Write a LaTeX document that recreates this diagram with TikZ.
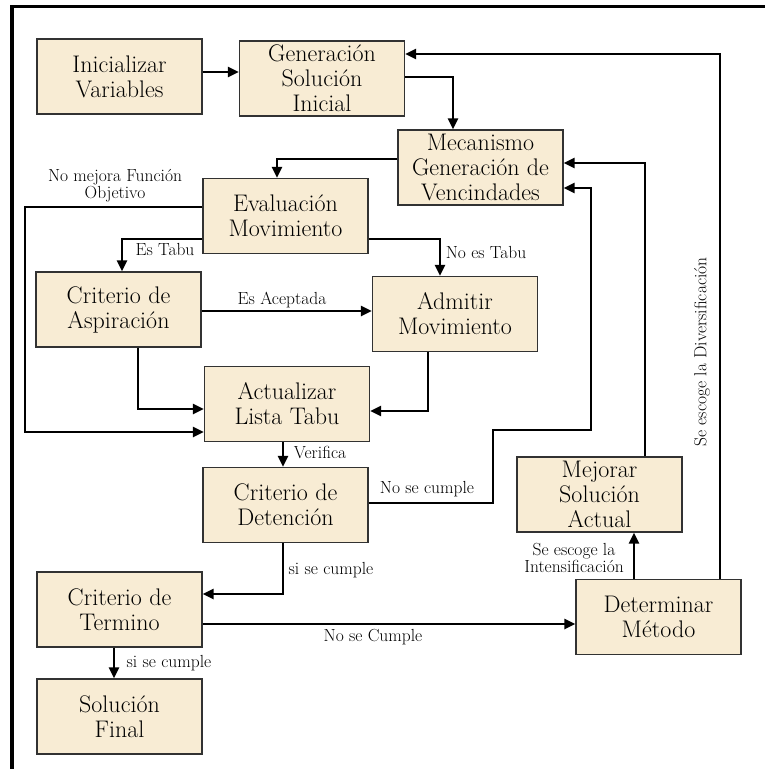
\documentclass[tikz,border=0pt]{standalone}
\usetikzlibrary{arrows.meta}
\definecolor{boxfill}{RGB}{248,236,212}
\definecolor{boxedge}{RGB}{50,50,50}
\begin{document}
\begin{tikzpicture}[x=1pt,y=-1pt,
  stepbox/.style={draw=boxedge, fill=boxfill, line width=1.3pt,
    minimum width=165pt, minimum height=75pt, inner sep=0pt,
    align=center, font=\fontsize{24}{25}\selectfont},
  flow/.style={line width=2.8pt, -{Triangle[length=11pt,width=10pt]}},
  lbl/.style={font=\fontsize{17.5}{17}\selectfont, align=center, inner sep=0pt},
]
\useasboundingbox (0,0) rectangle (765,769);

% outer frame (top and left edges only)
\draw[line width=3.5pt] (12,769) -- (12,6.5) -- (765,6.5);

% process boxes
\node[stepbox] (ini) at (119.5,76.5) {Inicializar\\Variables};
\node[stepbox] (gen) at (322,78.5)   {Generación\\Solución\\Inicial};
\node[stepbox] (mec) at (480.5,167.5){Mecanismo\\Generación de\\Vencindades};
\node[stepbox] (eva) at (285.5,216)  {Evaluación\\Movimiento};
\node[stepbox] (asp) at (118.5,309.5){Criterio de\\Aspiración};
\node[stepbox] (adm) at (455,314)    {Admitir\\Movimiento};
\node[stepbox] (act) at (287,404)    {Actualizar\\Lista Tabu};
\node[stepbox] (det) at (285.5,505)  {Criterio de\\Detención};
\node[stepbox] (mej) at (599.5,494.5){Mejorar\\Solución\\Actual};
\node[stepbox] (ter) at (119.5,609.5){Criterio de\\Termino};
\node[stepbox] (dtm) at (658.5,617)  {Determinar\\Método};
\node[stepbox] (fin) at (119.5,716.5){Solución\\Final};

% connectors
\draw[flow] (ini.east |- 0,72) -- (gen.west |- 0,72);
\draw[flow] (gen.east |- 0,77) -| (mec.north -| 453,0);
\draw[flow] (mec.west |- 0,159) -| (eva.north -| 277,0);
\draw[flow] (eva.west |- 0,239) -| (asp.north -| 122,0);
\draw[flow] (eva.east |- 0,239) -| (adm.north -| 440,0);
\draw[flow] (eva.west |- 0,207) -- (25,207) -- (25,432) -- (act.west |- 0,432);
\draw[flow] (asp.east |- 0,311) -- (adm.west |- 0,311);
\draw[flow] (asp.south -| 138,0) |- (act.west |- 0,409);
\draw[flow] (adm.south -| 428,0) |- (act.east |- 0,411);
\draw[flow] (act.south -| 283,0) -- (det.north -| 283,0);
\draw[flow] (det.east |- 0,503) -- (493,503) -- (493,430) -- (591,430) -- (591,188) -- (mec.east |- 0,188);
\draw[flow] (det.south -| 283,0) |- (ter.east |- 0,594);
\draw[flow] (ter.south -| 114,0) -- (fin.north -| 114,0);
\draw[flow] (ter.east |- 0,624) -- (dtm.west |- 0,624);
\draw[flow] (dtm.north -| 634,0) -- (mej.south -| 634,0);
\draw[flow] (mej.north -| 645,0) |- (mec.east |- 0,163);
\draw[flow] (dtm.north -| 720,0) |- (gen.east |- 0,54);

% connector labels
\node[lbl] (l1) at (115,186) {No mejora Función\\Objetivo};
\node[lbl] (l2) at (165,249) {Es Tabu};
\node[lbl] (l3) at (486,252) {No es Tabu};
\node[lbl] (l4) at (282,300) {Es Aceptada};
\node[lbl] (l5) at (320,452) {Verifica};
\node[lbl] (l6) at (427,489) {No se cumple};
\node[lbl] (l7) at (331,570) {si se cumple};
\node[lbl] (l8) at (169,663) {si se cumple};
\node[lbl] (l9) at (373,637) {No se Cumple};
\node[lbl] (l10) at (574,558) {Se escoge la\\Intensificación};
\node[lbl, rotate=90] (l11) at (702,352) {Se escoge la Diversificación};
\end{tikzpicture}
\end{document}
